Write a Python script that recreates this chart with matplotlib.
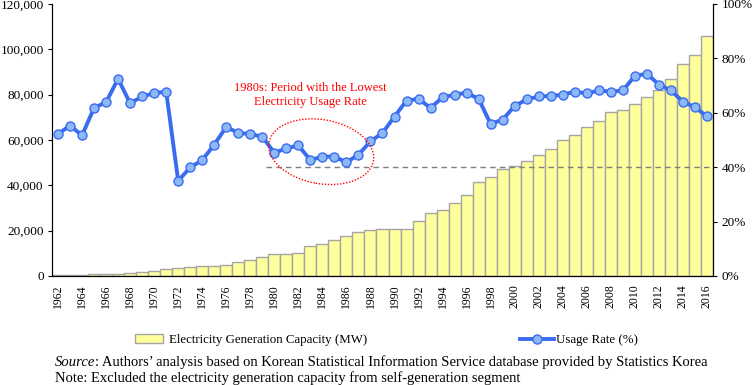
import numpy as np
import matplotlib
matplotlib.use("Agg")
import matplotlib.pyplot as plt
from matplotlib.patches import Ellipse, Patch
from matplotlib.lines import Line2D
from matplotlib.ticker import FuncFormatter
import matplotlib.transforms as mtransforms

plt.rcParams['font.family'] = ['Liberation Serif', 'DejaVu Serif']

years = list(range(1962, 2017))

# electricity generation capacity (MW)
capacity = [400, 420, 450, 740, 740, 900, 1500, 1900, 2400, 2900,
            3700, 4100, 4600, 4600, 5000, 6000, 6900, 8400, 9600, 9600,
            10200, 13300, 14300, 16100, 17800, 19200, 20200, 20900, 20900, 20900,
            24300, 27600, 28900, 32100, 35700, 41300, 43500, 47100, 48700, 50800,
            53600, 55900, 60000, 62300, 65600, 68200, 72400, 73200, 76000, 79100,
            81900, 86900, 93400, 97600, 106000]

# usage rate (%)
usage = [52.2, 55.3, 51.7, 61.8, 63.9, 72.5, 63.5, 66.0, 67.2, 67.8,
         35.0, 39.9, 42.6, 48.3, 54.8, 52.6, 52.2, 51.2, 45.3, 46.9,
         48.0, 42.6, 43.9, 43.9, 41.8, 44.6, 49.5, 52.6, 58.6, 64.5,
         65.1, 61.8, 65.7, 66.6, 67.4, 65.1, 55.9, 57.5, 62.5, 64.9,
         66.0, 66.2, 66.6, 67.8, 67.1, 68.2, 67.8, 68.2, 73.6, 74.3,
         70.4, 68.2, 64.1, 62.0, 58.7]

ref_level = 40
note_text = "1980s: Period with the Lowest\nElectricity Usage Rate"

x = np.arange(len(years))

fig = plt.figure(figsize=(7.53, 3.85), dpi=100)
ax = fig.add_axes([52/753, 1-276/385, 661/753, 272/385])
ax2 = ax.twinx()

ax.bar(x, capacity, width=1.0, color='#FFFF9C', edgecolor='#A5A5A5', linewidth=1.0, zorder=2)
ax.set_xlim(-0.5, len(years) - 0.5)
ax.set_ylim(0, 120000)
ax.set_yticks(range(0, 120001, 20000))
ax.yaxis.set_major_formatter(FuncFormatter(lambda v, p: f"{int(v):,}"))
ax.set_xticks(x[::2])
ax.set_xticklabels([str(y) for y in years[::2]], rotation=90, fontsize=8.5)
ax.tick_params(axis='x', length=0, pad=6)
ax.tick_params(axis='y', labelsize=9.5, length=3, pad=3)

ax2.set_ylim(0, 100)
ax2.set_yticks(range(0, 101, 20))
ax2.yaxis.set_major_formatter(FuncFormatter(lambda v, p: f"{int(v)}%"))
ax2.tick_params(axis='y', labelsize=9.5, length=3, pad=3)

for a in (ax, ax2):
    a.spines['top'].set_visible(False)

ax2.hlines(ref_level, 17.3, len(years) - 0.5, colors='#7F7F7F', linestyles=(0, (4, 3)),
           linewidth=1.0, zorder=3)

ax2.plot(x, usage, color='#3A6CF0', linewidth=2.8, marker='o', markersize=6.5,
         markerfacecolor='#8CB8F6', markeredgecolor='#3A6CF0', markeredgewidth=1.0, zorder=4)

# dotted ellipse around the 1980s
trans = fig.dpi_scale_trans + mtransforms.ScaledTranslation(21.9, 45.7, ax2.transData)
ell = Ellipse((0, 0), 1.06, 0.64, angle=-10, fill=False, edgecolor='#FF0000',
              linestyle=(0, (1, 1.2)), linewidth=1.0, transform=trans, zorder=5)
ax2.add_patch(ell)
ax2.text(21.0, 66.6, note_text, color='#FF0000', fontsize=9, ha='center', va='center',
         linespacing=1.2, zorder=6)

h1 = Patch(facecolor='#FFFF9C', edgecolor='#A5A5A5', linewidth=1.0)
h2 = Line2D([], [], color='#3A6CF0', linewidth=2.8, marker='o', markersize=6.5,
            markerfacecolor='#8CB8F6', markeredgecolor='#3A6CF0')
fig.legend([h1], ["Electricity Generation Capacity (MW)"], loc='center left',
           bbox_to_anchor=(135/753, 1-340/385), frameon=False, fontsize=9.3,
           borderpad=0, borderaxespad=0, handlelength=2.2, handleheight=0.6, handletextpad=0.4)
fig.legend([h2], ["Usage Rate (%)"], loc='center left',
           bbox_to_anchor=(520/753, 1-340/385), frameon=False, fontsize=9.3,
           borderpad=0, borderaxespad=0, handlelength=2.6, handletextpad=0.2)

t1 = fig.text(55/753, 1-369/385, "Source", fontsize=10.5, style='italic', va='bottom')
ax.annotate(": Authors\u2019 analysis based on Korean Statistical Information Service database provided by Statistics Korea",
            xy=(1, 0), xycoords=t1, fontsize=10.5, va='bottom', ha='left', annotation_clip=False)
fig.text(55/753, 1-385/385, "Note: Excluded the electricity generation capacity from self-generation segment",
         fontsize=10.5, va='bottom')

fig.savefig("out.png", dpi=100)
